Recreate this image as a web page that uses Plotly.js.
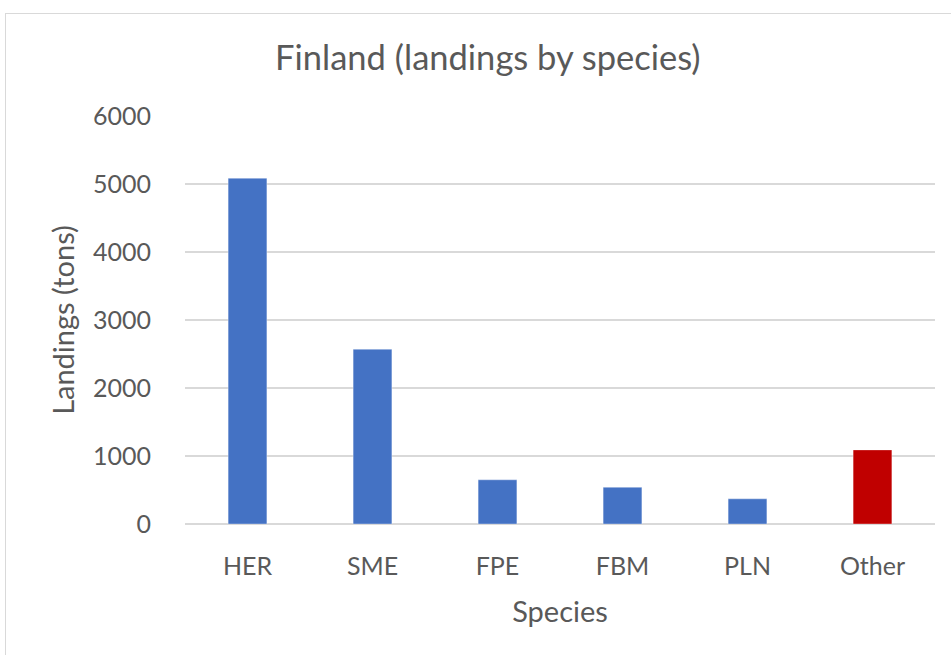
<!DOCTYPE html>
<html>
<head>
<meta charset="utf-8">
<script src="https://cdn.plot.ly/plotly-3.0.1.min.js"></script>
<style>
  body { margin: 0; background: #fff; }
  #frame { position: absolute; left: 5px; top: 13px; width: 960px; height: 660px; border: 1px solid #d9d9d9; }
  #plot { position: absolute; left: 0; top: 0; width: 951px; height: 655px; }
</style>
</head>
<body>
<div id="frame"></div>
<div id="plot"></div>
<script>
// Finland landings by species (tons)
let species = ["HER", "SME", "FPE", "FBM", "PLN", "Other"];
let landings = [5085, 2570, 650, 540, 370, 1090];
let barColors = ["#4472C4", "#4472C4", "#4472C4", "#4472C4", "#4472C4", "#C00000"];
let yTicks = [0, 1000, 2000, 3000, 4000, 5000, 6000];

let trace = {
    x: species,
    y: landings,
    type: "bar",
    width: 0.31,
    marker: {
        color: barColors,
        line: {color: "rgba(255,255,255,0.35)", width: 1}
    },
    hoverinfo: "x+y"
};

let fontFamily = "Lato, 'Open Sans', sans-serif";
let tickFont = {family: fontFamily, color: "#595959", size: 25};
let axisTitleFont = {family: fontFamily, color: "#595959", size: 29};

let layout = {
    width: 951,
    height: 655,
    margin: {l: 185, r: 16, t: 116, b: 131},
    paper_bgcolor: "rgba(0,0,0,0)",
    plot_bgcolor: "rgba(0,0,0,0)",
    showlegend: false,
    font: tickFont,
    title: {
        text: "Finland (landings by species)",
        font: {family: fontFamily, color: "#595959", size: 34.5},
        xref: "container",
        x: 0.513,
        xanchor: "center",
        yref: "container",
        y: 0.911,
        yanchor: "middle"
    },
    xaxis: {
        title: {text: "Species", font: axisTitleFont, standoff: 22},
        tickfont: tickFont,
        ticks: "outside",
        ticklen: 20,
        tickcolor: "rgba(0,0,0,0)",
        showgrid: false,
        showline: false,
        zeroline: false
    },
    yaxis: {
        title: {text: "Landings (tons)", font: axisTitleFont, standoff: 9},
        tickfont: tickFont,
        range: [0, 6000],
        tickvals: yTicks,
        ticks: "outside",
        ticklen: 28,
        tickcolor: "rgba(0,0,0,0)",
        gridcolor: "#d9d9d9",
        gridwidth: 1.5,
        zeroline: true,
        zerolinecolor: "#d9d9d9",
        zerolinewidth: 1.5,
        showline: false
    }
};

Plotly.newPlot("plot", [trace], layout, {displayModeBar: false});
</script>
</body>
</html>
